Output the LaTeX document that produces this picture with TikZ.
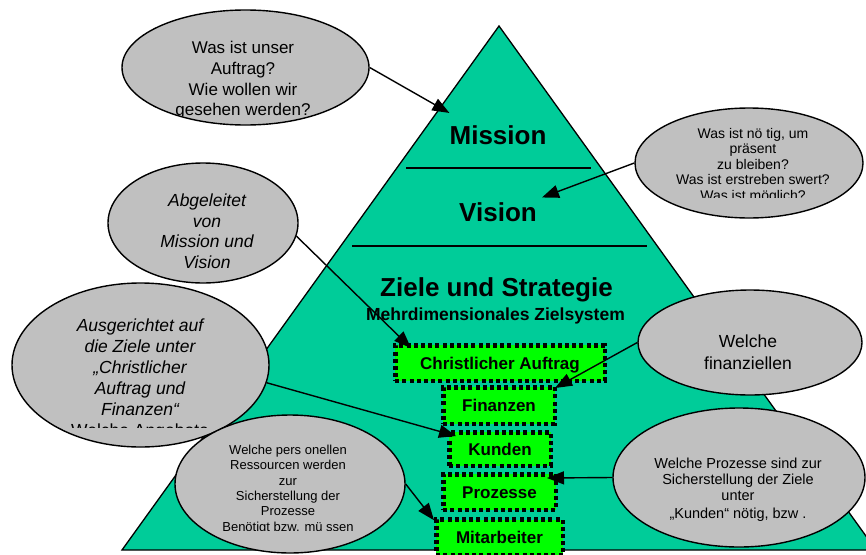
\documentclass[tikz,border=0pt]{standalone}
\usepackage{fontspec}
\setmainfont{Liberation Sans}
\usetikzlibrary{arrows.meta,shapes.geometric}
\definecolor{tri}{HTML}{00CC99}
\definecolor{boxg}{HTML}{00FF00}
\definecolor{ellg}{HTML}{C0C0C0}
\begin{document}
\begin{tikzpicture}[x=1pt,y=-1pt,
  bubble/.style={draw=black, line width=1.4pt, fill=ellg, ellipse, inner sep=0pt},
  btext/.style={align=center, inner sep=0pt, text=black},
  zbox/.style={draw=black, fill=boxg, line width=4.5pt, dash pattern=on 4pt off 3.2pt,
    inner sep=0pt, font=\bfseries\fontsize{17}{20}\selectfont, text height=12.2pt, text depth=0pt},
  conn/.style={line width=1.4pt, -{Triangle[length=17pt,width=13pt]}},
  titletext/.style={font=\bfseries\fontsize{26}{30}\selectfont, inner sep=0pt, anchor=base},
  sep/.style={line width=1.3pt}
]
\clip (0,0) rectangle (866,554);
% pyramid
\path[fill=tri, draw=black, line width=1.3pt] (499,26) -- (876,550) -- (122,550) -- cycle;
\coordinate (l1a) at (406,168); \coordinate (l1b) at (591,168);
\coordinate (l2a) at (352,246); \coordinate (l2b) at (647,246);
\draw[sep] (l1a) -- (l1b);
\draw[sep] (l2a) -- (l2b);
\node[titletext] (mission) at (498,144) {Mission};
\node[titletext] (vision) at (498,221.5) {Vision};
\node[titletext] (ziele) at (496.5,296) {Ziele und Strategie};
\node[font=\bfseries\fontsize{17.5}{20}\selectfont, inner sep=0pt, anchor=base] (zs) at (495.5,320) {Mehrdimensionales Zielsystem};
% boxes
\node[zbox, minimum width=209.5pt, minimum height=35.5pt] (b1) at (500,363) {Christlicher Auftrag};
\node[zbox, minimum width=111.5pt, minimum height=36.5pt] (b2) at (499,405.5) {Finanzen};
\node[zbox, minimum width=101.5pt, minimum height=33.5pt] (b3) at (500,449) {Kunden};
\node[zbox, minimum width=112.5pt, minimum height=35.5pt] (b4) at (499.5,492) {Prozesse};
\node[zbox, minimum width=126.5pt, minimum height=36pt] (b5) at (499.5,537.5) {Mitarbeiter};
% ellipses
\node[bubble, minimum width=247pt, minimum height=115pt] (e1) at (245.5,67.5) {};
\begin{scope}
\clip (100,0) rectangle (400,115);
\node[btext, font=\fontsize{17}{20.8}\selectfont] (t1) at (243,80.4) {Was ist unser\\Auftrag?\\Wie wollen wir\\gesehen werden?};
\end{scope}
\node[bubble, minimum width=228pt, minimum height=110pt] (e2) at (749,163) {};
\begin{scope}
\clip (630,100) rectangle (866,197);
\node[btext, font=\fontsize{14}{15.5}\selectfont] (t2) at (753,165.8) {Was ist nö tig, um\\präsent\\zu bleiben?\\Was ist erstreben swert?\\Was ist möglich?};
\end{scope}
\node[bubble, minimum width=190pt, minimum height=120pt] (e3) at (203,223) {};
\node[btext, font=\itshape\fontsize{17.5}{20.5}\selectfont] (t3) at (207,231.2) {Abgeleitet\\von\\Mission und\\Vision};
\node[bubble, minimum width=257pt, minimum height=164pt] (e4) at (140.5,365) {};
\begin{scope}
\clip (0,280) rectangle (280,427);
\node[btext, font=\fontsize{17.5}{21}\selectfont] (t4) at (140,379.8) {\itshape Ausgerichtet auf\\\itshape die Ziele unter\\\itshape „Christlicher\\\itshape Auftrag und\\\itshape Finanzen“\\Welche Angebote};
\end{scope}
\node[bubble, minimum width=230pt, minimum height=138pt] (e5) at (290,484) {};
\begin{scope}
\clip (170,410) rectangle (410,530);
\node[btext, font=\fontsize{13}{15.4}\selectfont] (t5) at (288,489.5) {Welche pers onellen\\Ressourcen werden\\zur\\Sicherstellung der\\Prozesse\\Benötigt bzw. mü ssen};
\end{scope}
\node[bubble, minimum width=224pt, minimum height=105pt] (e6) at (750,342.5) {};
\node[btext, font=\fontsize{17.5}{21.6}\selectfont] (t6) at (748,352.3) {Welche\\finanziellen};
\node[bubble, minimum width=252pt, minimum height=139pt] (e7) at (739,477.5) {};
\node[btext, font=\fontsize{14.5}{16}\selectfont] (t7) at (738,489.6) {Welche Prozesse sind zur\\Sicherstellung der Ziele\\unter\\[2.5pt]„Kunden“ nötig, bzw .};
% connectors
\draw[conn] (e1.east) -- ([yshift=12pt]mission.north west);
\draw[conn] (e2.west) -- ([xshift=5pt,yshift=5pt]vision.north east);
\draw[conn] (e3.-8) -- ([xshift=18pt,yshift=-5pt]b1.north west);
\draw[conn] (e4.-8) -- ([xshift=9pt,yshift=-6pt]b3.north west);
\draw[conn] (e5.east) -- ([yshift=-3pt]b5.north west);
\draw[conn] (e6.west) -- ([xshift=-2pt,yshift=-3pt]b2.north east);
\draw[conn] (e7.west) -- ([xshift=-11pt,yshift=-6pt]b4.north east);
\end{tikzpicture}
\end{document}
